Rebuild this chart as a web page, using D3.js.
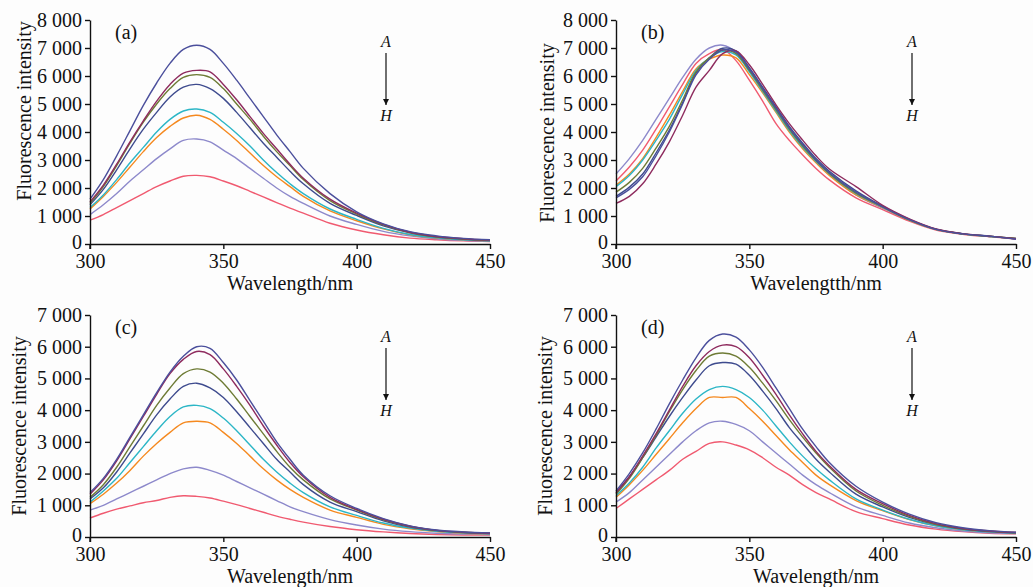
<!DOCTYPE html>
<html>
<head>
<meta charset="utf-8">
<script src="https://cdn.jsdelivr.net/npm/d3@7"></script>
<style>
  body { margin: 0; background: #fdfdfd; }
  svg { font-family: "Liberation Serif", "Times New Roman", serif; }
</style>
</head>
<body>
<svg width="1033" height="587"></svg>
<script>
// fluorescence spectra, curves A..H in four panels

var wavelengths = [300,305,310,315,320,325,330,335,340,345,350,355,360,365,370,375,380,390,400,410,420,430,440,450];
var seriesNames = ["A","B","C","D","E","F","G","H"];
var colors = ["#4b4f9c","#8e2b5e","#6e7b35","#3e4b8e","#2cb6c6","#f5891f","#8d89cb","#f05a70"];

var panelA = [
  [1600,2300,3150,4050,4950,5750,6450,6950,7100,6950,6450,5850,5200,4550,3900,3300,2700,1800,1150,720,440,290,200,150],
  [1500,2100,2850,3650,4400,5100,5700,6100,6200,6150,5700,5150,4550,3950,3400,2850,2350,1600,1100,700,420,270,190,140],
  [1450,2050,2800,3600,4350,5000,5550,5950,6050,5950,5550,5000,4450,3850,3300,2800,2300,1550,1070,680,410,260,180,130],
  [1400,1950,2650,3400,4100,4700,5250,5600,5700,5550,5200,4700,4150,3600,3100,2600,2150,1450,1020,650,400,250,170,120],
  [1300,1750,2300,2900,3450,4000,4450,4750,4820,4700,4350,3950,3500,3000,2550,2150,1800,1250,880,560,340,220,150,110],
  [1250,1700,2200,2750,3300,3800,4200,4500,4600,4450,4100,3700,3250,2800,2400,2050,1700,1180,830,540,330,210,150,110],
  [1050,1400,1800,2250,2650,3050,3400,3700,3750,3650,3350,3050,2700,2350,2000,1700,1450,1000,700,450,290,190,130,100],
  [850,1050,1300,1550,1800,2050,2250,2420,2450,2400,2250,2080,1880,1680,1480,1280,1100,740,500,330,210,150,110,90]
];
var panelB = [
  [1650,1950,2400,3150,4000,5000,6040,6600,6930,6850,6250,5550,4850,4150,3550,3000,2550,1850,1330,870,520,360,280,170],
  [1450,1700,2150,2850,3650,4600,5600,6200,6800,6900,6400,5700,4970,4300,3710,3150,2680,2050,1380,900,540,370,280,190],
  [1850,2200,2700,3420,4200,5150,6150,6650,6930,6800,6200,5500,4800,4100,3500,2980,2520,1820,1330,860,520,360,280,200],
  [1700,2030,2500,3250,4070,5050,6100,6650,6990,6900,6300,5600,4900,4200,3600,3050,2600,1900,1350,880,530,370,280,200],
  [2050,2450,3000,3700,4450,5350,6200,6650,6870,6750,6150,5450,4750,4050,3450,2950,2500,1800,1320,860,520,360,270,190],
  [2100,2500,3050,3800,4600,5450,6250,6600,6750,6650,6050,5400,4700,4000,3400,2900,2450,1750,1300,850,520,360,270,190],
  [2500,3050,3700,4450,5200,5950,6600,7000,7100,6850,6200,5550,4850,4150,3500,2950,2500,1750,1280,850,520,360,270,190],
  [2250,2750,3350,4100,4900,5700,6450,6800,6950,6550,5850,5100,4300,3700,3180,2700,2290,1650,1230,820,500,350,260,180]
];
var panelC = [
  [1400,1850,2450,3150,3850,4550,5200,5700,6000,5950,5500,4950,4300,3650,3000,2450,1950,1300,900,580,350,220,160,130],
  [1350,1800,2400,3100,3800,4500,5150,5600,5850,5750,5300,4750,4150,3500,2900,2350,1900,1250,870,560,340,210,150,120],
  [1250,1650,2200,2850,3500,4150,4700,5150,5300,5200,4850,4350,3800,3250,2700,2200,1800,1200,850,540,330,210,150,120],
  [1200,1550,2050,2650,3250,3850,4350,4750,4850,4700,4400,3950,3450,2950,2450,2050,1650,1100,800,510,310,200,140,110],
  [1100,1450,1850,2350,2850,3350,3800,4100,4150,4050,3750,3350,2900,2450,2050,1700,1400,950,680,440,280,180,130,100],
  [1050,1350,1700,2100,2550,2950,3300,3600,3650,3600,3300,2950,2550,2150,1800,1500,1250,850,620,400,260,170,120,100],
  [850,1000,1200,1400,1600,1800,2000,2150,2200,2100,1950,1750,1550,1350,1150,950,800,550,380,250,170,120,90,80],
  [600,750,880,980,1080,1150,1250,1300,1280,1230,1130,1020,900,780,660,560,470,330,230,160,110,80,65,60]
];
var panelD = [
  [1450,2000,2650,3400,4200,4950,5650,6200,6400,6300,5900,5350,4700,4050,3400,2850,2350,1600,1100,720,450,290,200,150],
  [1400,1900,2550,3250,4000,4750,5400,5850,6050,6000,5650,5100,4500,3850,3250,2700,2250,1500,1050,680,420,270,190,140],
  [1350,1850,2500,3200,3950,4650,5250,5700,5800,5700,5350,4850,4300,3700,3150,2650,2200,1450,1000,650,400,260,180,130],
  [1400,1900,2500,3150,3800,4400,4950,5400,5500,5450,5100,4600,4050,3450,2950,2450,2050,1350,950,620,390,250,170,130],
  [1300,1700,2200,2800,3350,3900,4350,4650,4750,4650,4400,4000,3500,3000,2550,2150,1800,1200,850,560,350,230,160,120],
  [1250,1650,2100,2600,3100,3600,4050,4400,4400,4400,4050,3650,3200,2750,2350,1950,1650,1150,830,550,350,230,170,140],
  [1100,1400,1800,2200,2600,3000,3350,3600,3650,3550,3350,3000,2650,2300,1950,1650,1400,950,680,440,290,190,130,110],
  [900,1200,1500,1800,2100,2450,2700,2950,3000,2900,2750,2500,2200,1950,1650,1400,1200,800,580,380,250,170,120,100]
];

var xTicks = [300,350,400,450];

var panels = [
  {label:"(a)", data:panelA, x0:90,  x1:490,  top:20,  bottom:244, yMax:8000, xTitle:"Wavelength/nm",  yTitleX:24,  yTitleY:111},
  {label:"(b)", data:panelB, x0:616, x1:1016, top:20,  bottom:244, yMax:8000, xTitle:"Wavelengtth/nm", yTitleX:547, yTitleY:133},
  {label:"(c)", data:panelC, x0:90,  x1:490,  top:315, bottom:537, yMax:7000, xTitle:"Wavelength/nm",  yTitleX:19,  yTitleY:426},
  {label:"(d)", data:panelD, x0:616, x1:1016, top:315, bottom:537, yMax:7000, xTitle:"Wavelength/nm",  yTitleX:545, yTitleY:426}
];

var svg = d3.select("svg");

var fmt = d => d === 0 ? "0" : d3.format(",")(d).replace(",", " ");

svg.append("defs").append("marker")
    .attr("id", "head")
    .attr("viewBox", "0 0 10 10")
    .attr("refX", 10).attr("refY", 5)
    .attr("markerWidth", 4.5).attr("markerHeight", 4.5)
    .attr("orient", "auto")
  .append("path")
    .attr("d", "M0,0L10,5L0,10Z")
    .attr("fill", "#111");

panels.forEach(p => {
  var g = svg.append("g");

  var xScale = d3.scaleLinear().domain([300, 450]).range([p.x0, p.x1]);
  var yScale = d3.scaleLinear().domain([0, p.yMax]).range([p.bottom, p.top]);

  var line = d3.line()
      .x((d, i) => xScale(wavelengths[i]))
      .y(d => yScale(d))
      .curve(d3.curveCatmullRom);

  // draw H first so A ends up on top
  g.selectAll("path.curve")
    .data(p.data.slice().reverse())
    .enter()
    .append("path")
      .attr("class", "curve")
      .attr("d", line)
      .attr("fill", "none")
      .attr("stroke", (d, i) => colors[p.data.length - 1 - i])
      .attr("stroke-width", 1.4);

  var xAxis = g.append("g")
      .attr("transform", "translate(0," + p.bottom + ")")
      .call(d3.axisBottom(xScale).tickValues(xTicks).tickSizeInner(5).tickSizeOuter(0).tickPadding(5));

  var yAxis = g.append("g")
      .attr("transform", "translate(" + p.x0 + ",0)")
      .call(d3.axisLeft(yScale).ticks(p.yMax / 1000).tickFormat(fmt).tickSizeInner(5).tickSizeOuter(0).tickPadding(3));

  [xAxis, yAxis].forEach(a => {
    a.selectAll("path, line").attr("stroke", "#111").attr("stroke-width", 1.4);
    a.selectAll("text")
      .attr("fill", "#111")
      .style("font-family", "'Liberation Serif', 'Times New Roman', serif")
      .style("font-size", "20px");
  });
  // keep the "0" label clear of the "300" below it
  yAxis.selectAll(".tick text").filter(d => d === 0).attr("dy", "0.2em");

  // little overhang of the y axis below the x axis
  g.append("line")
      .attr("x1", p.x0).attr("x2", p.x0)
      .attr("y1", p.bottom).attr("y2", p.bottom + 5)
      .attr("stroke", "#111").attr("stroke-width", 1.4);

  g.append("text")
      .attr("x", (p.x0 + p.x1) / 2)
      .attr("y", p.bottom + 46)
      .attr("text-anchor", "middle")
      .style("font-size", "20px")
      .attr("fill", "#111")
      .text(p.xTitle);

  g.append("text")
      .attr("transform", "translate(" + p.yTitleX + "," + p.yTitleY + ") rotate(-90)")
      .attr("dy", "0.35em")
      .attr("text-anchor", "middle")
      .style("font-size", "20px")
      .attr("fill", "#111")
      .text("Fluorescence intensity");

  g.append("text")
      .attr("x", p.x0 + 25)
      .attr("y", p.top + 19)
      .style("font-size", "20px")
      .attr("fill", "#111")
      .text(p.label);

  // A -> H arrow
  var ax = p.x0 + 296;
  g.append("text")
      .attr("x", ax).attr("y", p.top + 27)
      .attr("text-anchor", "middle")
      .style("font-size", "16px").style("font-style", "italic")
      .attr("fill", "#111")
      .text(seriesNames[0]);
  g.append("line")
      .attr("x1", ax).attr("x2", ax)
      .attr("y1", p.top + 33).attr("y2", p.top + 85)
      .attr("stroke", "#333").attr("stroke-width", 1.4)
      .attr("marker-end", "url(#head)");
  g.append("text")
      .attr("x", ax).attr("y", p.top + 101)
      .attr("text-anchor", "middle")
      .style("font-size", "16px").style("font-style", "italic")
      .attr("fill", "#111")
      .text(seriesNames[seriesNames.length - 1]);
});
</script>
</body>
</html>
